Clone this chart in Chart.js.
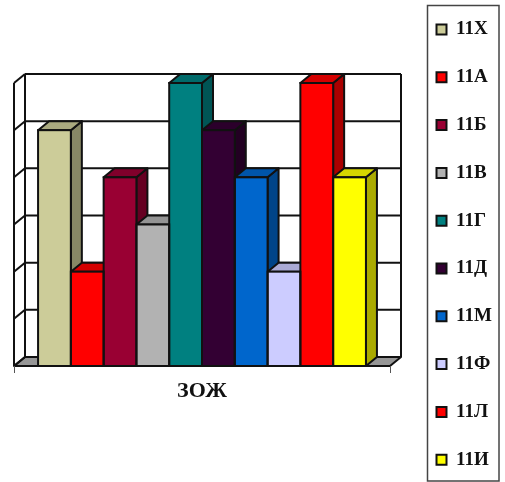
<!DOCTYPE html>
<html>
<head>
<meta charset="utf-8">
<script src="https://cdn.jsdelivr.net/npm/chart.js@4"></script>
<style>
  html, body { margin: 0; padding: 0; background: #fff; }
  canvas { display: block; }
</style>
</head>
<body>
<canvas id="myChart" width="505" height="482"></canvas>
<script>
var categories = ["ЗОЖ"];
var classes = ["11Х", "11А", "11Б", "11В", "11Г", "11Д", "11М", "11Ф", "11Л", "11И"];
var values = [5, 2, 4, 3, 6, 5, 4, 2, 6, 4];
var colors = ["#CCCC99", "#FF0000", "#990033", "#B2B2B2", "#008080", "#330033", "#0066CC", "#CCCCFF", "#FF0000", "#FFFF00"];

var depthX = 11, depthY = 9;
var legendFont = 19, legendPad = 28.8;

function shade(hex, f) {
  var n = parseInt(hex.slice(1), 16);
  return "rgb(" + Math.round((n >> 16) * f) + "," + Math.round(((n >> 8) & 255) * f) + "," + Math.round((n & 255) * f) + ")";
}

function poly(ctx, pts, fill) {
  ctx.beginPath();
  ctx.moveTo(pts[0][0], pts[0][1]);
  for (var i = 1; i < pts.length; i++) ctx.lineTo(pts[i][0], pts[i][1]);
  ctx.closePath();
  if (fill) { ctx.fillStyle = fill; ctx.fill(); }
  ctx.stroke();
}

function line(ctx, x1, y1, x2, y2) {
  ctx.beginPath();
  ctx.moveTo(x1, y1);
  ctx.lineTo(x2, y2);
  ctx.stroke();
}

var box3d = {
  id: "box3d",
  beforeLayout: function (chart) {
    // legend is taller than the window, keep it in one column with a fixed width
    var legend = chart.legend;
    if (legend && !legend._wrapped) {
      var fit = legend.fit;
      legend.fit = function () {
        this.maxHeight = 900;
        fit.call(this);
        this.width = 115;
        this.height = 482;
      };
      legend._wrapped = true;
    }
  },
  afterLayout: function (chart) {
    var legend = chart.legend;
    legend.left = 436.5 - legendPad;
    legend.right = 505;
    legend.top = 20 - legendPad;
    legend.bottom = 900;
  },
  beforeDatasetsDraw: function (chart) {
    var ctx = chart.ctx, a = chart.chartArea, y = chart.scales.y;
    ctx.save();
    ctx.strokeStyle = "#111";
    ctx.lineWidth = 2;
    ctx.lineJoin = "round";

    // floor
    poly(ctx, [[a.left, a.bottom], [a.left + depthX, a.bottom - depthY], [a.right + depthX, a.bottom - depthY], [a.right, a.bottom]], "#969696");

    // walls and gridlines
    y.ticks.forEach(function (t) {
      var py = y.getPixelForValue(t.value);
      line(ctx, a.left, py, a.left + depthX, py - depthY);
      if (t.value > 0) line(ctx, a.left + depthX, py - depthY, a.right + depthX, py - depthY);
    });
    line(ctx, a.left, a.top, a.left, a.bottom);
    line(ctx, a.left + depthX, a.top - depthY, a.left + depthX, a.bottom - depthY);
    line(ctx, a.right + depthX, a.top - depthY, a.right + depthX, a.bottom - depthY);

    // side and top of each bar, left to right
    chart.data.datasets.forEach(function (ds, i) {
      var b = chart.getDatasetMeta(i).data[0];
      var l = b.x - b.width / 2, r = b.x + b.width / 2;
      poly(ctx, [[r, b.y], [r + depthX, b.y - depthY], [r + depthX, b.base - depthY], [r, b.base]], shade(ds.backgroundColor, 2 / 3));
      poly(ctx, [[l, b.y], [l + depthX, b.y - depthY], [r + depthX, b.y - depthY], [r, b.y]], shade(ds.backgroundColor, 5 / 6));
    });
    ctx.restore();
  },
  afterDatasetsDraw: function (chart) {
    var ctx = chart.ctx, a = chart.chartArea;
    ctx.save();
    ctx.strokeStyle = "#111";
    ctx.lineWidth = 2;
    chart.data.datasets.forEach(function (ds, i) {
      var b = chart.getDatasetMeta(i).data[0];
      ctx.strokeRect(b.x - b.width / 2, b.y, b.width, b.base - b.y);
    });
    // front axis
    line(ctx, a.left, a.bottom, a.right, a.bottom);
    ctx.strokeStyle = "#555";
    ctx.lineWidth = 1;
    line(ctx, a.left + 0.5, a.bottom, a.left + 0.5, a.bottom + 7);
    line(ctx, a.right + 0.5, a.bottom, a.right + 0.5, a.bottom + 7);
    ctx.restore();
  },
  afterDraw: function (chart) {
    var ctx = chart.ctx;
    ctx.save();
    ctx.strokeStyle = "#444";
    ctx.lineWidth = 1.5;
    ctx.strokeRect(427.5, 5.5, 71.5, 475.5);
    ctx.restore();
  }
};

var chart = new Chart(document.getElementById("myChart").getContext("2d"), {
  type: "bar",
  plugins: [box3d],
  data: {
    labels: categories,
    datasets: classes.map(function (name, i) {
      return {
        label: name,
        data: [values[i]],
        backgroundColor: colors[i],
        borderColor: "#111",
        borderWidth: 0
      };
    })
  },
  options: {
    responsive: false,
    animation: false,
    layout: { padding: { left: 14, top: 83, bottom: 77, right: 0 } },
    datasets: { bar: { barPercentage: 1, categoryPercentage: 0.872 } },
    plugins: {
      tooltip: { enabled: false },
      legend: {
        position: "right",
        align: "start",
        labels: {
          boxWidth: 10,
          boxHeight: 10,
          padding: legendPad,
          color: "#111",
          font: { family: "'Liberation Serif'", size: legendFont, weight: "bold" },
          generateLabels: function (chart) {
            var items = Chart.defaults.plugins.legend.labels.generateLabels(chart);
            items.forEach(function (it) { it.lineWidth = 2; it.strokeStyle = "#111"; });
            return items;
          }
        }
      }
    },
    scales: {
      x: {
        grid: { display: false },
        border: { display: false },
        ticks: { display: false },
        title: {
          display: true,
          text: "ЗОЖ",
          color: "#111",
          padding: { top: 4.6, bottom: 0 },
          font: { family: "'Liberation Serif'", size: 22, weight: "bold" }
        }
      },
      y: {
        display: false,
        min: 0,
        max: 6,
        ticks: { stepSize: 1 }
      }
    }
  }
});
</script>
</body>
</html>
